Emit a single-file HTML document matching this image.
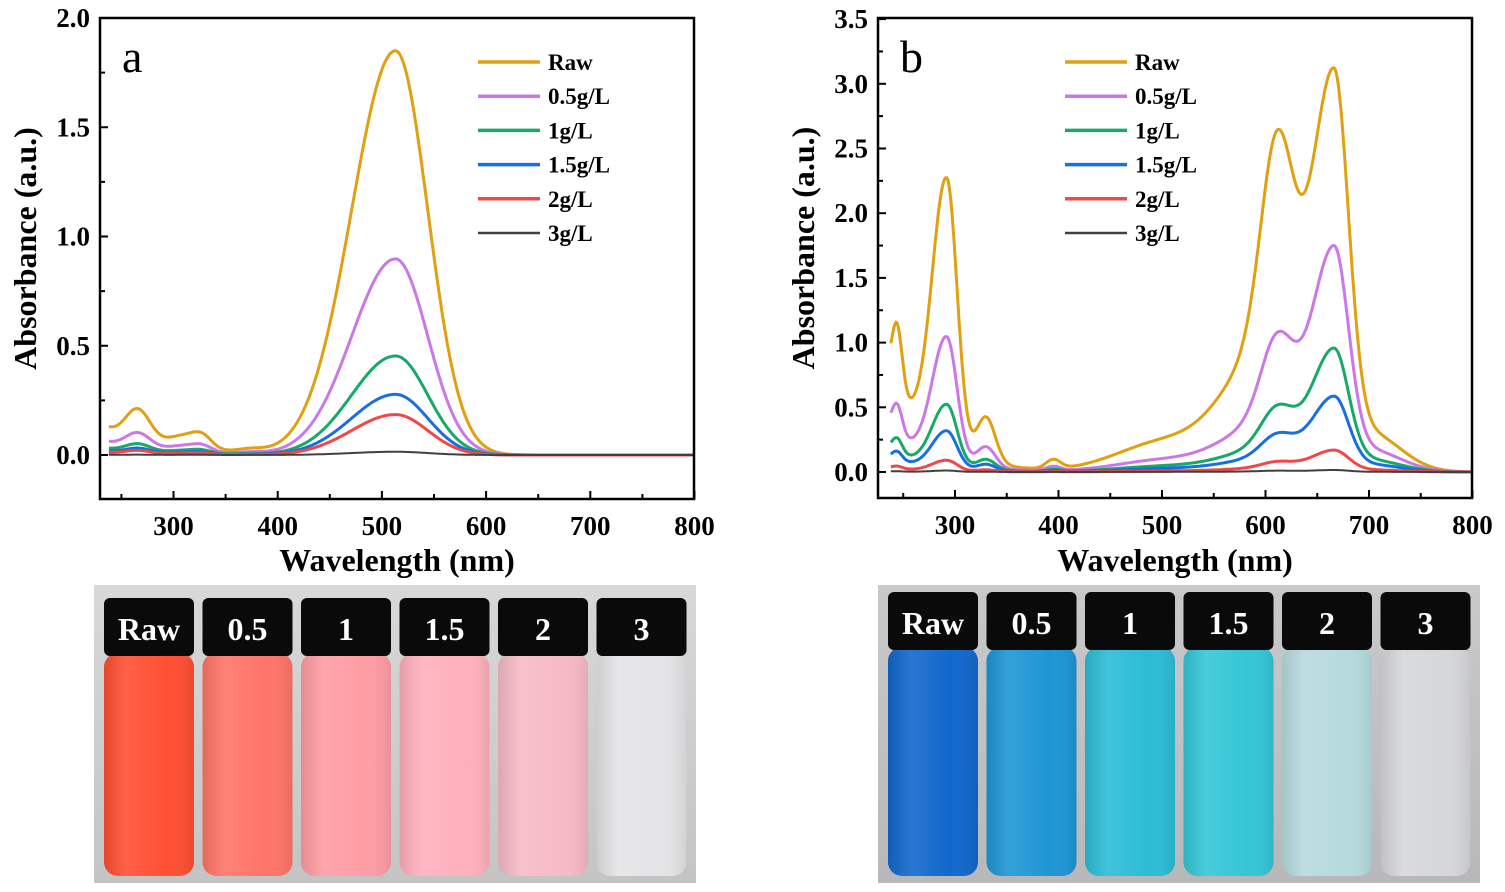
<!DOCTYPE html>
<html><head><meta charset="utf-8"><style>
html,body{margin:0;padding:0;background:#fff;}
svg{display:block;font-family:"Liberation Serif",serif;}
</style></head><body>
<svg id="s" width="1505" height="892" viewBox="0 0 1505 892" xmlns="http://www.w3.org/2000/svg">
<defs>
<linearGradient id="bgA" x1="0" y1="0" x2="0" y2="1"><stop offset="0" stop-color="#d8d8d8"/><stop offset="1" stop-color="#c4c4c4"/></linearGradient>
<linearGradient id="bgB" x1="0" y1="0" x2="0" y2="1"><stop offset="0" stop-color="#c9c9cb"/><stop offset="1" stop-color="#b8b8ba"/></linearGradient>
<linearGradient id="sh" x1="0" y1="0" x2="1" y2="0"><stop offset="0" stop-color="#000" stop-opacity="0.1"/><stop offset="0.25" stop-color="#fff" stop-opacity="0.1"/><stop offset="0.7" stop-color="#fff" stop-opacity="0"/><stop offset="1" stop-color="#000" stop-opacity="0.08"/></linearGradient>
</defs>
<g id="root"></g>
</svg>
<script>
const NS="http://www.w3.org/2000/svg";
const root=document.getElementById('root');
function el(t,a,txt){const e=document.createElementNS(NS,t);for(const k in a)e.setAttribute(k,a[k]);if(txt!==undefined)e.textContent=txt;root.appendChild(e);return e;}
function g(x,a,m,sl,sr){const s=x<m?sl:(sr||sl);return a*Math.exp(-0.5*((x-m)/s)**2);}
const cols=["#e0a010","#cc77e8","#18a868","#1a6fe0","#f04848","#404040"];
const names=["Raw","0.5g/L","1g/L","1.5g/L","2g/L","3g/L"];

function panel(o){
  const X=nm=>o.x300+(nm-300)*o.px, Y=v=>o.y0-v*o.py;
  o.curves.forEach((f,i)=>{
    let d="";for(let nm=238;nm<=800;nm+=1){d+=(nm==238?"M":"L")+X(nm).toFixed(1)+","+Y(f(nm)).toFixed(1);}
    el('path',{d:d,fill:"none",stroke:cols[i],"stroke-width":i==5?2:3});
  });
  el('rect',{x:o.L,y:o.T,width:o.R-o.L,height:o.B-o.T,fill:"none",stroke:"#000","stroke-width":2.5});
  for(let nm=250;nm<=800;nm+=50){const x=X(nm);if(x<o.L+2)continue;el('line',{x1:x,x2:x,y1:o.B,y2:o.B-(nm%100==0?8:5),stroke:"#000","stroke-width":2});
    if(nm%100==0)el('text',{x:x,y:o.B+36,"text-anchor":"middle","font-size":27,"font-weight":"bold"},nm);}
  for(let v=0;v<=o.ymax+1e-6;v+=0.25){const y=Y(v);el('line',{x1:o.L,x2:o.L+(Math.abs(v*2-Math.round(v*2))<1e-6?8:5),y1:y,y2:y,stroke:"#000","stroke-width":2});
    if(Math.abs(v*2-Math.round(v*2))<1e-6)el('text',{x:o.L-10,y:y+9,"text-anchor":"end","font-size":27,"font-weight":"bold"},v.toFixed(1));}
  el('text',{x:(o.L+o.R)/2,y:571,"text-anchor":"middle","font-size":32,"font-weight":"bold"},"Wavelength (nm)");
  el('text',{x:0,y:0,transform:`translate(${o.L-64},${(o.T+o.B)/2-10}) rotate(-90)`,"text-anchor":"middle","font-size":32,"font-weight":"bold"},"Absorbance (a.u.)");
  el('text',{x:o.L+22,y:72,"font-size":46},o.lab);
  names.forEach((n,i)=>{const y=o.ly+i*34.2;el('line',{x1:o.lx,x2:o.lx+62,y1:y,y2:y,stroke:cols[i],"stroke-width":i==5?2.5:3.5});
    el('text',{x:o.lx+70,y:y+8,"font-size":23,"font-weight":"bold"},n);});
}
function rawAlow(k){return x=>k*(g(x,1.85,513,42,31)+g(x,0.15,266,12)+g(x,0.07,312,18)+g(x,0.04,328,9)+0.12*Math.exp(-(x-238)/40)+g(x,0.02,372,15));}
panel({L:100,R:694,T:18,B:499,x300:173.5,px:1.042,y0:455,py:218.5,ymax:2,lab:"a",lx:478,ly:62,
  curves:[rawAlow(1),rawAlow(0.485),rawAlow(0.245),rawAlow(0.15),rawAlow(0.1),rawAlow(0.008)]});
function rawB(ku,k1,k2){return x=>ku*(g(x,0.5,244,5)+0.75*Math.exp(-(x-238)/40)+g(x,2.08,292,14,10)+g(x,0.35,330,9)+g(x,0.07,395,7))
  +k1*(g(x,0.22,500,45)+g(x,0.9,600,40,30)+g(x,1.66,612,16))+k2*(g(x,2.88,666,22,14)+g(x,0.3,700,30));}
panel({L:878,R:1472,T:18,B:498,x300:955,px:1.035,y0:472,py:129.4,ymax:3.5,lab:"b",lx:1065,ly:62,
  curves:[rawB(1,1,1),rawB(0.46,0.4,0.565),rawB(0.23,0.19,0.31),rawB(0.14,0.11,0.19),rawB(0.04,0.03,0.055),rawB(0.005,0.004,0.005)]});
function photo(x0,bg,capY,vials){
  el('rect',{x:x0,y:585,width:602,height:298,fill:bg});
  const lbl=["Raw","0.5","1","1.5","2","3"];
  vials.forEach((c,i)=>{const cx=x0+55+i*98.5,w=90;
    el('rect',{x:cx-w/2,y:capY+55,width:w,height:883-capY-62,rx:14,fill:c});
    el('rect',{x:cx-w/2,y:capY+55,width:w,height:883-capY-62,rx:14,fill:"url(#sh)"});
    el('rect',{x:cx-w/2,y:capY,width:w,height:58,rx:6,fill:"#0a0a0a"});
    el('text',{x:cx,y:capY+42,"text-anchor":"middle","font-size":32,"font-weight":"bold",fill:"#fff"},lbl[i]);
  });
}
photo(94,"url(#bgA)",598,["#ff4f33","#ff7468","#ff9ca4","#ffb0bc","#f6bac6","#e4e4e6"]);
photo(878,"url(#bgB)",592,["#1268cc","#1e96d4","#2cbcd6","#34c6d6","#b6dade","#d6d7d9"]);
</script>
</body></html>
